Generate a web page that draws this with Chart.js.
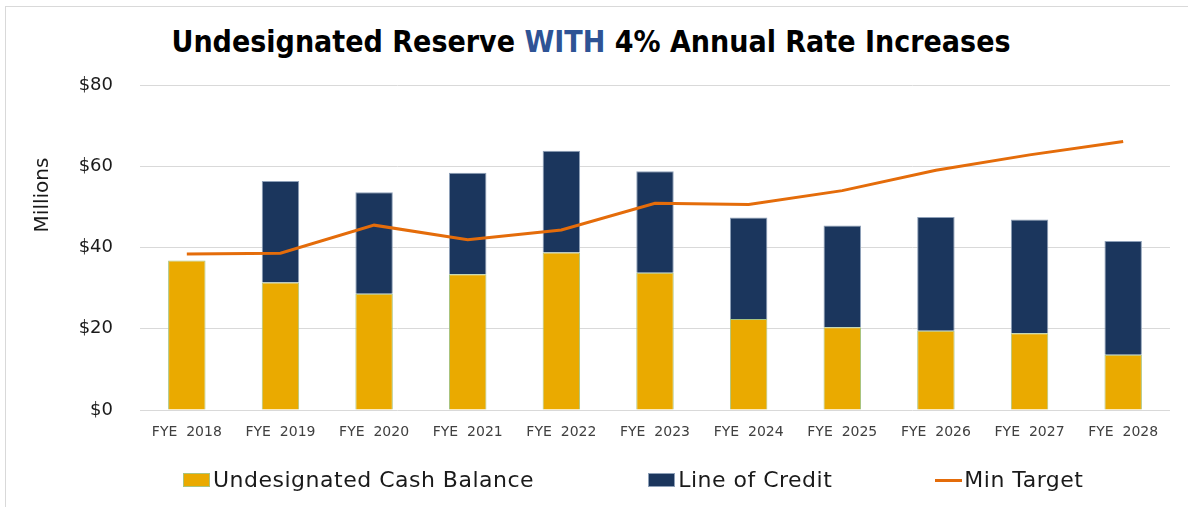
<!DOCTYPE html>
<html>
<head>
<meta charset="utf-8">
<script src="https://cdn.jsdelivr.net/npm/chart.js@4/dist/chart.umd.min.js"></script>
<style>
  html, body { margin: 0; padding: 0; background: #fff; }
  body { width: 1188px; height: 507px; overflow: hidden; position: relative; font-family: "DejaVu Sans", sans-serif; }
  .frame { position: absolute; left: 5px; top: 6px; width: 1400px; height: 700px; border: 1px solid #d9d9d9; }
  h1 { position: absolute; left: -3px; top: 27px; width: 1188px; margin: 0; text-align: center;
       font: bold 30px/30px "DejaVu Sans", sans-serif; color: #000; transform: scaleX(0.9); white-space: nowrap; }
  h1 span { color: #2e5395; }
  canvas { position: absolute; left: 0; top: 0; }
  #legend { position: absolute; left: 183px; top: 468px; display: flex; align-items: center;
            font: 22px/24px "DejaVu Sans", sans-serif; letter-spacing: 0.5px; color: #1a1a1a; white-space: nowrap; }
  #legend .item { display: flex; align-items: center; margin-right: 114px; }
  #legend .item:nth-child(2) { margin-right: 103px; }
  #legend .box { width: 27px; height: 14px; box-sizing: border-box; margin-right: 3px; }
  #legend .dash { width: 27px; height: 3px; margin-right: 2px; }
</style>
</head>
<body>
<div class="frame"></div>
<h1>Undesignated Reserve <span>WITH</span> 4% Annual Rate Increases</h1>
<canvas id="reserveChart" width="1188" height="507"></canvas>
<div id="legend"></div>
<script>
const years = ["FYE  2018", "FYE  2019", "FYE  2020", "FYE  2021", "FYE  2022", "FYE  2023",
               "FYE  2024", "FYE  2025", "FYE  2026", "FYE  2027", "FYE  2028"];
const cashBalance = [36.8, 31.4, 28.6, 33.4, 38.8, 33.8, 22.4, 20.4, 19.5, 18.9, 13.6];
const lineOfCredit = [null, 25, 25, 25, 25, 25, 25, 25, 28, 28, 28];
const minTarget = [38.4, 38.6, 45.5, 41.9, 44.3, 50.9, 50.6, 54.0, 59.0, 62.8, 66.1];
const yTicks = [0, 20, 40, 60, 80];

const YELLOW = "#eaaa00";
const NAVY = "#1b365d";
const ORANGE = "#e46c0a";

// y axis title sits above the axis middle in the original, so draw it by hand
const axisTitle = {
  id: "axisTitle",
  afterDraw(chart) {
    const ctx = chart.ctx;
    ctx.save();
    ctx.translate(43, 195);
    ctx.rotate(-Math.PI / 2);
    ctx.font = '20px "DejaVu Sans"';
    ctx.fillStyle = "#1a1a1a";
    ctx.textAlign = "center";
    ctx.textBaseline = "middle";
    ctx.fillText("Millions", 0, 0);
    ctx.restore();
  },
};

const chart = new Chart(document.getElementById("reserveChart"), {
  type: "bar",
  data: {
    labels: years,
    datasets: [
      {
        label: "Undesignated Cash Balance",
        data: cashBalance,
        backgroundColor: YELLOW,
        borderColor: "#a9c47f",
        borderWidth: 1,
        stack: "reserve",
        order: 1,
      },
      {
        label: "Line of Credit",
        data: lineOfCredit,
        backgroundColor: NAVY,
        borderColor: "#8ea0b8",
        borderWidth: 1,
        stack: "reserve",
        order: 1,
      },
      {
        type: "line",
        label: "Min Target",
        data: minTarget,
        borderColor: ORANGE,
        backgroundColor: ORANGE,
        borderWidth: 3,
        pointRadius: 0,
        tension: 0,
        order: 0,
      },
    ],
  },
  options: {
    responsive: false,
    animation: false,
    datasets: {
      bar: { barPercentage: 0.4, categoryPercentage: 1.0 },
    },
    layout: { padding: { left: 0, right: 18, top: 85, bottom: 57 } },
    plugins: {
      legend: { display: false },
      tooltip: { enabled: false },
    },
    scales: {
      x: {
        stacked: true,
        grid: { display: false, drawTicks: false },
        border: { display: false },
        ticks: { color: "#404040", font: { family: "DejaVu Sans", size: 14 }, padding: 14, autoSkip: false, maxRotation: 0 },
        afterFit(scale) { scale.height = 40; },
      },
      y: {
        stacked: true,
        min: 0,
        max: 80,
        afterBuildTicks(scale) { scale.ticks = yTicks.map((v) => ({ value: v })); },
        grid: { color: "#d9d9d9", lineWidth: 1, drawTicks: false },
        border: { display: false },
        ticks: {
          color: "#1a1a1a",
          font: { family: "DejaVu Sans", size: 18 },
          padding: 27,
          callback: (v) => "$" + v,
        },
        afterFit(scale) { scale.width = 140; },
      },
    },
  },
  plugins: [axisTitle],
});

// html legend built from the chart's datasets
const legendEl = document.getElementById("legend");
chart.data.datasets.forEach((ds) => {
  const item = document.createElement("div");
  item.className = "item";
  const mark = document.createElement("span");
  if (ds.type === "line") {
    mark.className = "dash";
    mark.style.background = ds.borderColor;
  } else {
    mark.className = "box";
    mark.style.background = ds.backgroundColor;
    mark.style.border = "1px solid " + ds.borderColor;
  }
  const text = document.createElement("span");
  text.textContent = ds.label;
  item.appendChild(mark);
  item.appendChild(text);
  legendEl.appendChild(item);
});
</script>
</body>
</html>
